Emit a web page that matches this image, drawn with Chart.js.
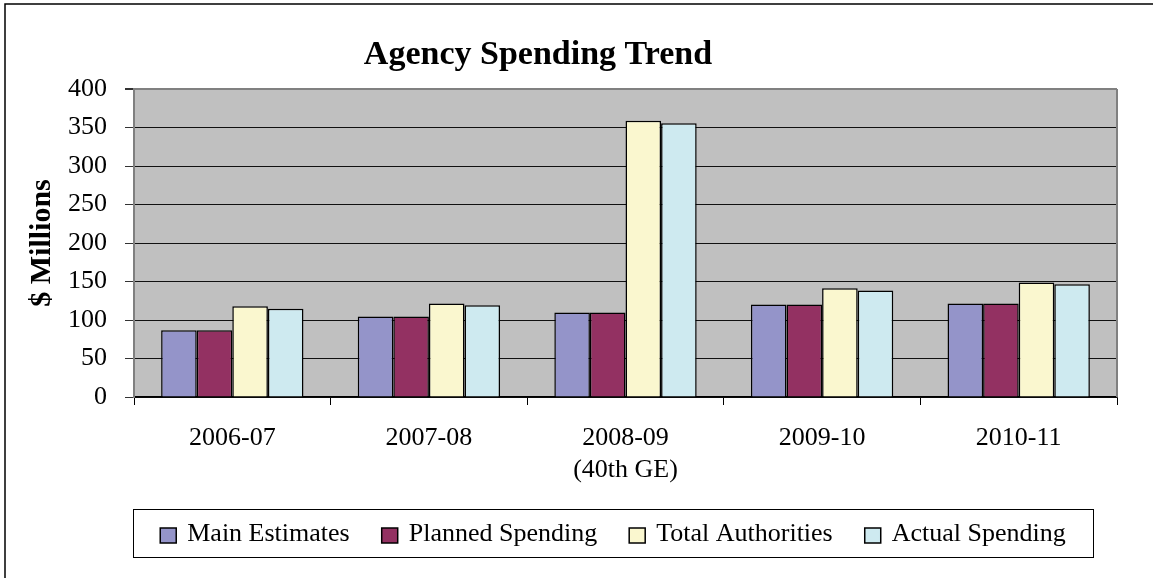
<!DOCTYPE html>
<html>
<head>
<meta charset="utf-8">
<script src="https://cdn.jsdelivr.net/npm/chart.js@4.4.1/dist/chart.umd.min.js"></script>
<style>
  html, body { margin: 0; padding: 0; background: #fff; }
  #wrap { width: 1157px; height: 578px; }
</style>
</head>
<body>
<div id="wrap"><canvas id="spendChart" width="1157" height="578"></canvas></div>
<script>
// values ($ millions)
const years = ['2006-07', '2007-08', ['2008-09', '(40th GE)'], '2009-10', '2010-11'];
const mainEstimates = [86.7, 104.5, 109.7, 120.1, 121.4];
const plannedSpending = [86.7, 104.5, 109.7, 120.1, 121.4];
const totalAuthorities = [117.9, 121.4, 358.9, 141.3, 148.7];
const actualSpending = [114.5, 119.2, 355.5, 138.3, 146.5];
const yTicks = [0, 50, 100, 150, 200, 250, 300, 350, 400];

const serif = '"Liberation Serif", "Times New Roman", serif';

// white page, outer frame and grey plot area
const backdrop = {
  id: 'backdrop',
  beforeDraw(chart) {
    const ctx = chart.ctx;
    const a = chart.chartArea;
    ctx.save();
    ctx.fillStyle = '#fff';
    ctx.fillRect(0, 0, chart.width, chart.height);
    ctx.strokeStyle = '#000';
    ctx.lineWidth = 1.5;
    ctx.beginPath();
    ctx.moveTo(5, chart.height + 5);
    ctx.lineTo(5, 4);
    ctx.lineTo(1153, 4);
    ctx.stroke();
    ctx.fillStyle = '#C0C0C0';
    ctx.fillRect(a.left, a.top, a.right - a.left, a.bottom - a.top);
    ctx.restore();
  },
  afterDraw(chart) {
    const ctx = chart.ctx;
    const a = chart.chartArea;
    ctx.save();
    ctx.strokeStyle = '#808080';
    ctx.lineWidth = 2;
    ctx.beginPath();
    ctx.moveTo(a.right, a.top);
    ctx.lineTo(a.right, a.bottom);
    ctx.stroke();

    // title
    ctx.fillStyle = '#000';
    ctx.font = 'bold 34px ' + serif;
    ctx.textAlign = 'center';
    ctx.textBaseline = 'middle';
    ctx.fillText('Agency Spending Trend', 538, 55);

    // legend in a box
    const boxL = a.left - 1, boxR = a.right - 24, boxT = 509, boxB = 557;
    ctx.strokeStyle = '#000';
    ctx.lineWidth = 1;
    ctx.strokeRect(boxL + 0.5, boxT + 0.5, boxR - boxL, boxB - boxT);
    ctx.font = '26px ' + serif;
    const sw = 17, gapIn = 10, gapOut = 32;
    const items = chart.data.datasets.map(ds => ({
      label: ds.label, color: ds.backgroundColor, w: ctx.measureText(ds.label).width
    }));
    let total = items.reduce((s, it) => s + sw + gapIn + it.w, 0) + gapOut * (items.length - 1);
    let x = (boxL + boxR) / 2 - total / 2;
    const cy = (boxT + boxB) / 2;
    ctx.textAlign = 'left';
    items.forEach(it => {
      ctx.fillStyle = it.color;
      ctx.fillRect(x, cy - 5, sw - 1, sw - 2);
      ctx.strokeStyle = '#000';
      ctx.lineWidth = 1.5;
      ctx.strokeRect(x, cy - 5, sw - 1, sw - 2);
      ctx.fillStyle = '#000';
      ctx.fillText(it.label, x + sw + gapIn, cy + 1);
      x += sw + gapIn + it.w + gapOut;
    });
    ctx.restore();
  }
};

const barStyle = { borderColor: '#000', borderWidth: 1.5 };

new Chart(document.getElementById('spendChart'), {
  type: 'bar',
  data: {
    labels: years,
    datasets: [
      { label: 'Main Estimates', data: mainEstimates, backgroundColor: '#9494C9', ...barStyle },
      { label: 'Planned Spending', data: plannedSpending, backgroundColor: '#933162', ...barStyle },
      { label: 'Total Authorities', data: totalAuthorities, backgroundColor: '#FAF7CF', ...barStyle },
      { label: 'Actual Spending', data: actualSpending, backgroundColor: '#CEEAF0', ...barStyle }
    ]
  },
  options: {
    responsive: false,
    animation: false,
    layout: { padding: { left: 20, top: 89, right: 40, bottom: 91 } },
    datasets: { bar: { categoryPercentage: 0.724, barPercentage: 1 } },
    plugins: {
      legend: { display: false },
      title: { display: false },
      tooltip: { enabled: false }
    },
    scales: {
      x: {
        afterFit: s => { s.height = 90; },
        grid: { drawOnChartArea: false, drawTicks: true, tickLength: 8, color: '#000', offset: true },
        border: { color: '#000', width: 1.5 },
        ticks: { color: '#000', padding: 18, font: { family: serif, size: 26, lineHeight: 1.2 } }
      },
      y: {
        min: 0,
        max: 400,
        afterFit: s => { s.width = 134 - 20; },
        afterBuildTicks: s => { s.ticks = yTicks.map(v => ({ value: v })); },
        grid: {
          color: c => (c.tick && c.tick.value === 400 ? '#808080' : '#111'),
          lineWidth: c => (c.tick && c.tick.value === 400 ? 2 : 1),
          tickColor: '#333',
          tickLength: 9
        },
        border: { color: '#808080', width: 2 },
        ticks: { color: '#000', padding: 18, font: { family: serif, size: 26 } },
        title: {
          display: true,
          text: '$ Millions',
          color: '#000',
          font: { family: serif, size: 30, weight: 'bold' }
        }
      }
    }
  },
  plugins: [backdrop]
});
</script>
</body>
</html>
